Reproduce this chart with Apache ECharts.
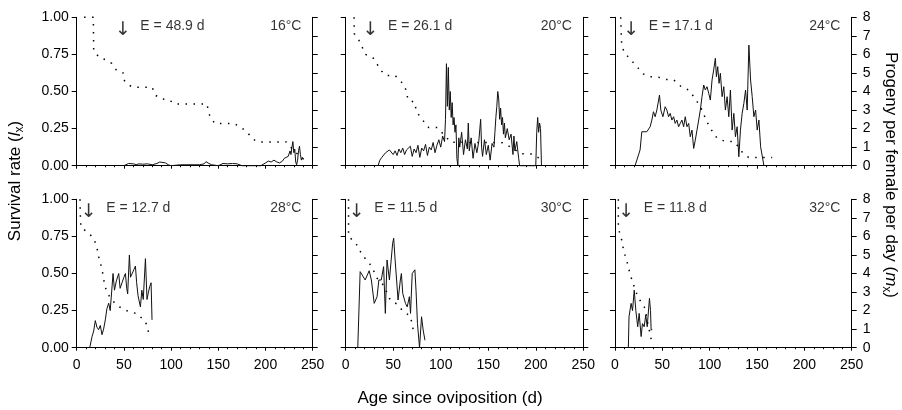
<!DOCTYPE html>
<html><head><meta charset="utf-8">
<script src="https://cdn.jsdelivr.net/npm/echarts@6/dist/echarts.min.js"></script>
<style>html,body{margin:0;padding:0;background:#fff}#c{width:902px;height:410px}</style>
</head><body><div id="c"></div>
<script>
// ---------- data ----------
const temps = ['16°C', '20°C', '24°C', '28°C', '30°C', '32°C'];
const eValues = [48.9, 26.1, 17.1, 12.7, 11.5, 11.8];
const xTicks = [0, 50, 100, 150, 200, 250];
const lxTicks = [0, 0.25, 0.5, 0.75, 1];
const mxTicks = [0, 1, 2, 3, 4, 5, 6, 7, 8];

// survival rate lx  [day, lx]
const lx16 = [[7.8,1.0],[17.6,1.0],[18,0.773],[24,0.73],[32,0.71],[37,0.69],[42,0.645],[49,0.627],[50,0.577],[55,0.544],[60,0.528],[80,0.528],[83,0.476],[90,0.45],[98,0.443],[104,0.416],[138,0.416],[140,0.35],[146,0.285],[166,0.285],[172,0.267],[180,0.23],[187,0.178],[192,0.16],[222,0.16],[230,0.1],[241,0.04]];
const lx20 = [[8.8,1.0],[9,0.89],[13.8,0.847],[17.3,0.8],[20.8,0.75],[28.6,0.728],[32.8,0.687],[37,0.642],[42.7,0.608],[52,0.608],[60.4,0.552],[64,0.503],[65.4,0.444],[73,0.426],[74,0.37],[78.8,0.325],[87.3,0.257],[96.4,0.257],[110.6,0.158],[165,0.155],[175,0.12],[185,0.08],[195,0.079],[207,0.04]];
const lx24 = [[6,1.0],[6.5,0.9],[7.1,0.81],[10,0.76],[15.9,0.72],[24.7,0.656],[30,0.618],[37,0.6],[46,0.596],[53,0.582],[62,0.578],[70.7,0.528],[77.8,0.51],[85,0.45],[92,0.375],[96,0.31],[100.7,0.252],[107.8,0.185],[116.7,0.163],[125.6,0.163],[130,0.13],[134,0.094],[141,0.056],[166,0.056]];
const lx28 = [[3.5,1.0],[4,0.86],[4.6,0.81],[11.3,0.78],[17,0.744],[21.2,0.69],[22.5,0.63],[24,0.596],[26,0.55],[27.9,0.49],[29.3,0.434],[31.4,0.384],[36,0.33],[43.5,0.281],[55,0.243],[64,0.23],[72.8,0.175],[75.6,0.126],[76.3,0.074]];
const lx30 = [[3,1.0],[3,0.75],[8,0.72],[13.4,0.68],[17,0.625],[22.3,0.59],[27.5,0.546],[32.8,0.47],[40,0.42],[47,0.32],[54,0.294],[57.6,0.265],[62.9,0.236],[68.2,0.21],[71.7,0.1]];
const lx32 = [[3.5,1.0],[3.5,0.8],[6.4,0.75],[8,0.69],[9.9,0.636],[12.4,0.59],[14.1,0.54],[18.4,0.445],[24,0.344],[31.8,0.265],[33.9,0.187],[38.2,0.056]];

// progeny per female per day mx  [day, mx]
const mx16 = [[50,0],[55,0.12],[57,0.05],[60,0.1],[63,0.06],[66,0.1],[70,0.08],[75,0.1],[80,0.05],[85,0.12],[88,0.2],[90,0.1],[94,0.15],[97,0.05],[100,0],[110,0.05],[120,0.05],[130,0.05],[135,0.1],[137,0.22],[140,0.12],[143,0.05],[150,0],[155,0.12],[157,0.2],[160,0.1],[165,0.12],[170,0.1],[175,0],[195,0],[200,0.15],[203,0.25],[206,0.2],[209,0.3],[212,0.2],[215,0.15],[218,0.25],[220,0.4],[222,0.3],[224,0.5],[226,0.8],[227,0.6],[228,1.0],[229,1.3],[230,0.7],[231,0.9],[232,0.2],[233,0.05],[234,0.3],[235,0.8],[236,1.05],[237,0.6],[238,0.3],[239,0.45],[240,0.35]];
const mx20 = [[34,0],[36,0.3],[38,0.45],[40,0.5],[42,0.7],[44,0.6],[46,0.85],[48,0.95],[50,0.6],[52,0.8],[54,0.55],[56,0.9],[58,0.7],[60,0.95],[62,0.6],[64,0.85],[66,0.75],[68,1.05],[70,0.5],[72,0.9],[74,0.7],[76,1.1],[78,0.45],[80,0.95],[82,0.8],[84,1.15],[86,0.55],[88,1.0],[90,0.85],[92,1.25],[94,0.7],[96,1.1],[98,1.4],[100,1.0],[102,1.6],[104,1.3],[105,2.5],[106,5.5],[107,3.2],[108,5.3],[109,3.0],[110,4.0],[111,2.6],[112,3.4],[113,2.2],[114,2.6],[115,1.8],[116,2.2],[117,0.4],[118,0],[119,1.5],[120,1.0],[122,1.8],[124,0.6],[126,1.4],[128,0.9],[129,2.3],[130,0.8],[132,1.5],[134,0.4],[136,1.2],[138,0.7],[140,1.3],[142,2.5],[143,1.0],[144,0.5],[146,1.4],[148,0.6],[150,1.1],[152,0.3],[154,1.2],[156,1.0],[157,1.8],[158,2.6],[159,3.2],[160,4.0],[161,3.6],[162,2.5],[163,3.1],[164,2.2],[165,2.6],[166,1.7],[167,2.3],[168,1.5],[170,2.0],[172,1.4],[174,1.7],[176,0.6],[177,1.6],[178,0.8],[180,1.3],[182,0.4],[183,0],[200,0],[201,1.8],[202,2.6],[203,1.8],[204,2.3],[205,2.0],[206,0]];
const mx24 = [[21.2,0],[26.5,0.85],[28.3,1.83],[30,1.92],[33.6,1.83],[37.1,2.1],[38.9,2.46],[40.6,2.91],[42.4,2.64],[44.2,3.0],[47,3.81],[48.4,3.0],[50.6,2.64],[53,3.18],[54.8,3.0],[56.6,2.64],[58.3,2.82],[60.1,2.46],[61.9,2.64],[63.6,2.28],[65.4,2.46],[67.2,2.1],[68.9,2.28],[70.7,2.46],[72.5,2.1],[74.2,2.64],[76,2.1],[77.8,2.28],[79.5,1.56],[81.3,1.92],[83.1,0.93],[84.8,1.38],[86.6,1.92],[88.4,2.46],[90.1,3.0],[91.9,3.72],[93.7,4.35],[95.4,4.08],[97.2,4.26],[99,3.9],[100.7,3.54],[102.5,4.62],[104.2,5.16],[106,5.79],[107.1,4.8],[108.5,5.34],[109.9,4.44],[111.3,4.98],[113.1,3.72],[114.9,4.26],[116.6,3.0],[118.4,3.72],[120.2,2.64],[121.9,4.08],[123.7,1.92],[125.5,2.82],[127.2,1.56],[129,2.1],[130.8,0.48],[132.5,1.92],[134.3,2.82],[136.1,3.36],[137.9,4.08],[139.6,3.0],[141.4,6.5],[143.2,4.62],[144.9,3.72],[146.7,2.64],[148.5,3.0],[150.2,1.92],[152,2.46],[153.8,1.02],[157.3,0]];
const mx28 = [[13.8,0],[16.2,0.59],[18,0.9],[19.7,1.46],[21.5,1.1],[23.2,0.97],[25,1.2],[26.8,0.7],[28.5,1.0],[30.3,1.5],[32,2.1],[33.9,2.4],[35.5,2.0],[37,3.0],[38.5,4.0],[40,3.1],[42,3.6],[44.5,4.0],[46,3.2],[48,3.5],[50,3.8],[51.6,4.0],[53,3.2],[54,2.9],[55.8,5.0],[57,3.8],[58.6,3.7],[60.5,4.2],[62.2,4.4],[63.5,3.5],[65,2.8],[67.5,2.2],[69,3.1],[70.5,2.6],[72.8,4.8],[74.5,2.6],[76,3.0],[77.4,3.3],[78.8,3.5],[79.8,1.5]];
const mx30 = [[12.7,0],[15.2,4.1],[17,4.1],[20.5,3.65],[24.7,4.15],[27,3.65],[30,2.39],[33,2.75],[34.9,3.65],[37.4,3.65],[39.9,4.37],[41.7,1.85],[43.5,4.73],[46,3.65],[49.4,5.63],[50.5,5.9],[52,4.73],[55.1,2.57],[57.5,3.65],[58.6,4.0],[60,2.93],[62.9,2.39],[64.7,2.2],[67,2.75],[68.2,1.85],[70,4.0],[72.8,4.2],[74,3.1],[75.5,1.31],[77.7,0],[79.8,1.67],[80.6,1.76],[81.5,0.95],[83.4,0.4]];
const mx32 = [[14.1,0],[14.8,1.67],[17,2.39],[18.5,2.0],[20.3,3.1],[22,2.0],[24,1.13],[25.5,1.85],[27.6,0.6],[29,1.3],[30.8,1.13],[32.5,1.76],[34,1.13],[36.4,2.66],[37.5,2.0],[38.2,0.94],[39.2,1.0]];

const lxAll = [lx16, lx20, lx24, lx28, lx30, lx32];
const mxAll = [mx16, mx20, mx24, mx28, mx30, mx32];

// ---------- layout ----------
const FONT = 'Liberation Sans, Arial, Helvetica, sans-serif';
const colLeft = [76.7, 345.7, 615];
const colWidth = [236, 237.6, 236.7];
const rowTop = [17.3, 199.3];
const plotH = 148.4;

const grids = [], xAxes = [], yAxes = [], series = [];
for (let i = 0; i < 6; i++) {
  const r = Math.floor(i / 3), c = i % 3;
  grids.push({ left: colLeft[c], top: rowTop[r], width: colWidth[c], height: plotH, containLabel: false });
  xAxes.push({
    gridIndex: i, type: 'value', min: xTicks[0], max: xTicks[xTicks.length - 1], interval: xTicks[1] - xTicks[0],
    axisLine: { show: true, onZero: false, lineStyle: { color: '#000', width: 1 } },
    axisTick: { show: true, inside: false, length: 3, lineStyle: { color: '#000' } },
    minorTick: { show: true, splitNumber: 5, length: 1.5, lineStyle: { color: '#000' } },
    splitLine: { show: false },
    axisLabel: { show: r === 1, color: '#000', fontSize: 14, fontFamily: FONT, margin: 10 }
  });
  yAxes.push({
    gridIndex: i, type: 'value', position: 'left', min: lxTicks[0], max: lxTicks[lxTicks.length - 1], interval: lxTicks[1] - lxTicks[0],
    axisLine: { show: true, onZero: false, lineStyle: { color: '#000', width: 1 } },
    axisTick: { show: true, inside: false, length: 5, lineStyle: { color: '#000' } },
    splitLine: { show: false },
    axisLabel: { show: c === 0, color: '#000', fontSize: 14, fontFamily: FONT, margin: 8, formatter: v => v.toFixed(2) }
  });
  yAxes.push({
    gridIndex: i, type: 'value', position: 'right', min: mxTicks[0], max: mxTicks[mxTicks.length - 1], interval: mxTicks[1] - mxTicks[0],
    axisLine: { show: true, onZero: false, lineStyle: { color: '#000', width: 1 } },
    axisTick: { show: true, inside: false, length: 5, lineStyle: { color: '#000' } },
    splitLine: { show: false },
    axisLabel: { show: c === 2, color: '#000', fontSize: 14, fontFamily: FONT, margin: 11 }
  });
  // progeny line
  series.push({
    type: 'line', xAxisIndex: i, yAxisIndex: 2 * i + 1, data: mxAll[i],
    showSymbol: false, symbol: 'none', clip: false,
    lineStyle: { color: '#111', width: 1 }, z: 3
  });
  // survival dotted line
  series.push({
    type: 'line', xAxisIndex: i, yAxisIndex: 2 * i, data: lxAll[i],
    showSymbol: false, symbol: 'none', clip: false,
    lineStyle: { color: '#000', width: 1.5, type: [1.5, 6.5] }, z: 4
  });
  // annotations
  const lbl = { color: '#000', fontSize: 14, fontFamily: FONT };
  series.push({
    type: 'scatter', xAxisIndex: i, yAxisIndex: 2 * i, symbolSize: 1, clip: false,
    itemStyle: { color: 'rgba(0,0,0,0)' }, silent: true, z: 5,
    data: [
      { value: [eValues[i], 0.915], label: { show: true, position: 'inside', formatter: '↓', color: '#000', fontSize: 19, fontFamily: 'DejaVu Sans, sans-serif' } },
      { value: [eValues[i], 0.938], label: Object.assign({ show: true, position: 'right', distance: 17, formatter: 'E = ' + eValues[i].toFixed(1) + ' d' }, lbl) },
      { value: [238.6, 0.938], label: Object.assign({ show: true, position: 'left', distance: 0, formatter: temps[i] }, lbl) }
    ]
  });
}

const titleStyle = { fill: '#000', fontSize: 17, fontFamily: FONT };
const chart = echarts.init(document.getElementById('c'), null, { renderer: 'canvas' });
chart.setOption({
  backgroundColor: '#fff',
  animation: false,
  textStyle: { fontFamily: FONT },
  grid: grids, xAxis: xAxes, yAxis: yAxes, series: series,
  graphic: [
    { type: 'text', x: 450, y: 398, style: Object.assign({ text: 'Age since oviposition (d)', align: 'center', verticalAlign: 'middle' }, titleStyle) },
    { type: 'text', x: 15, y: 181, rotation: Math.PI / 2,
      style: Object.assign({ text: 'Survival rate ({i|l}{s|x})', align: 'center', verticalAlign: 'middle', lineHeight: 22,
        rich: { i: { fontStyle: 'italic', fontSize: 17, fontFamily: FONT, lineHeight: 22 }, s: { fontSize: 12, fontFamily: FONT, verticalAlign: 'bottom', lineHeight: 12 } } }, titleStyle) },
    { type: 'text', x: 891, y: 175, rotation: -Math.PI / 2,
      style: Object.assign({ text: 'Progeny per female per day ({i|m}{s|x})', align: 'center', verticalAlign: 'middle', lineHeight: 22,
        rich: { i: { fontStyle: 'italic', fontSize: 17, fontFamily: FONT, lineHeight: 22 }, s: { fontSize: 12, fontFamily: FONT, verticalAlign: 'bottom', lineHeight: 12 } } }, titleStyle) }
  ]
});
</script>
</body></html>
